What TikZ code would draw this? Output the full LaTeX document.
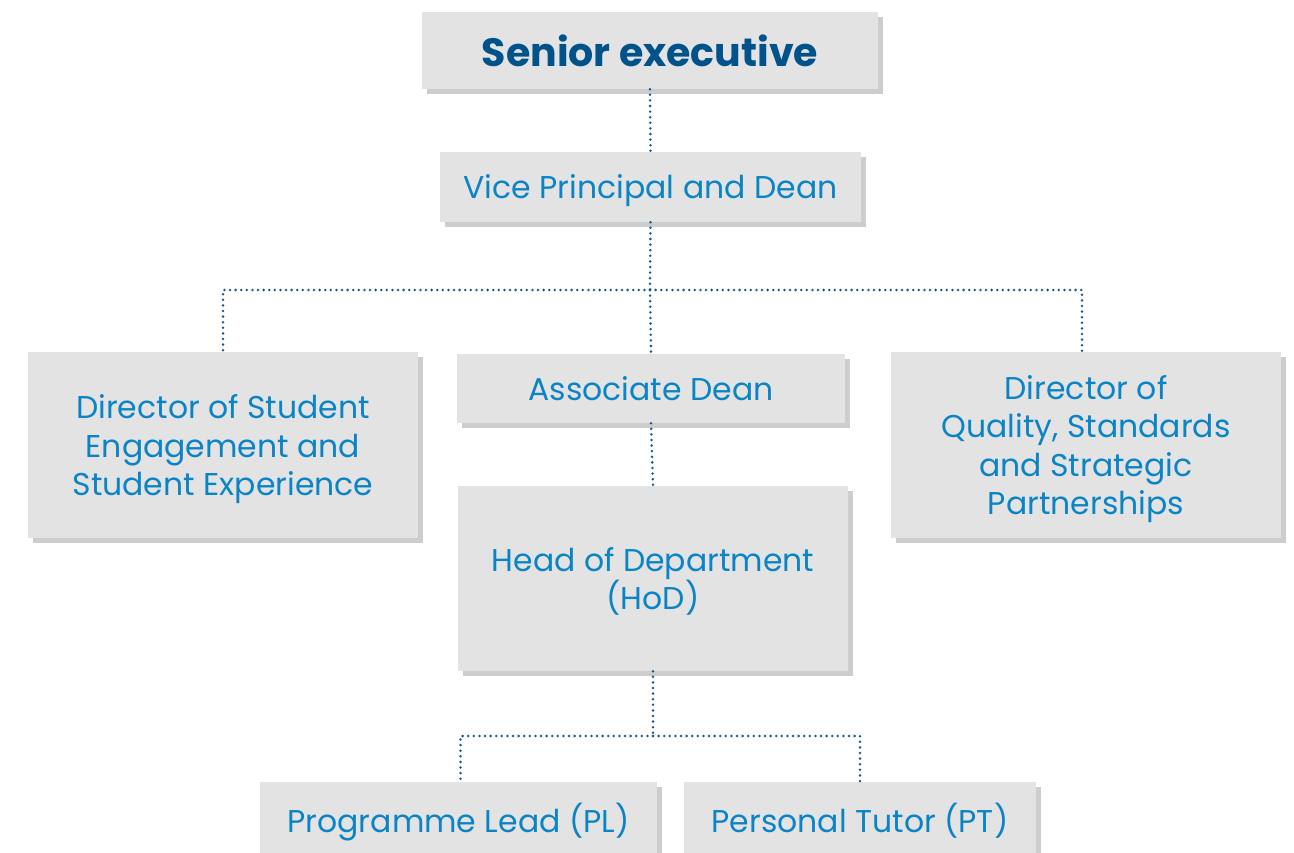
\documentclass[tikz,border=0pt]{standalone}
\usepackage{fontspec}
\setmainfont{Poppins}
\usetikzlibrary{shadows}
\definecolor{boxgrey}{HTML}{E3E3E3}
\definecolor{shadowgrey}{HTML}{CDCDCD}
\definecolor{textblue}{HTML}{0B84C6}
\definecolor{headblue}{HTML}{00528A}
\definecolor{dotblue}{HTML}{1B5A8A}
\begin{document}
\begin{tikzpicture}[x=1pt, y=-1pt,
    unit box/.style={fill=boxgrey, inner sep=0pt, align=center, text=textblue,
      text depth=0pt, font=\fontsize{31.5}{38.5}\selectfont,
      drop shadow={shadow xshift=5pt, shadow yshift=-5pt, fill=shadowgrey, opacity=1}},
    link/.style={dotblue, line width=2.8pt, line cap=round, dash pattern=on 0pt off 5.6pt}]

    \clip (0,0) rectangle (1294,853);

    \node[unit box, minimum width=456pt, minimum height=77pt, text=headblue,
          font=\fontsize{39.5}{46}\selectfont\bfseries] (senior) at (650,50.5) {Senior executive};
    \node[unit box, minimum width=421pt, minimum height=70pt] (vp)  at (650.5,187)  {Vice Principal and Dean};
    \node[unit box, minimum width=390pt, minimum height=186pt] (dse) at (223,445)   {Director of Student\\Engagement and\\Student Experience};
    \node[unit box, minimum width=388pt, minimum height=69pt]  (ad)  at (651,388.5) {Associate Dean};
    \node[unit box, minimum width=390pt, minimum height=186pt] (dqs) at (1086,445)  {Director of\\Quality, Standards\\and Strategic\\Partnerships};
    \node[unit box, minimum width=390pt, minimum height=185pt] (hod) at (653,578.5) {Head of Department\\(HoD)};
    \node[unit box, minimum width=397pt, minimum height=72pt]  (pl)  at (458.5,818) {Programme Lead (PL)};
    \node[unit box, minimum width=352pt, minimum height=72pt]  (pt)  at (860,818)   {Personal Tutor (PT)};

    \coordinate (fork)  at (650,290);
    \coordinate (split) at (653,736);

    \draw[link] (senior.south) -- (vp.north);
    \draw[link] (vp.south) -- (fork);
    \draw[link] (fork) -| (dse.north);
    \draw[link] (fork) -- (ad.north);
    \draw[link] (fork) -| ([xshift=-4pt]dqs.north);
    \draw[link] (ad.south) -- (hod.north);
    \draw[link] (hod.south) -- (split);
    \draw[link] (split) -| ([xshift=2pt]pl.north);
    \draw[link] (split) -| (pt.north);
  \end{tikzpicture}
\end{document}
